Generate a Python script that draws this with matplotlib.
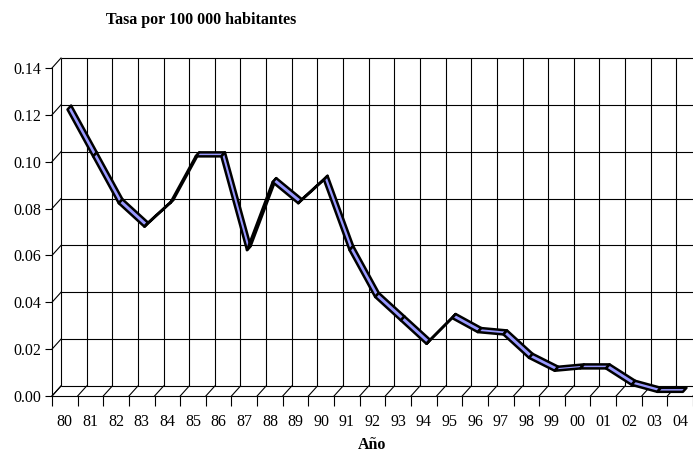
import numpy as np
import matplotlib
matplotlib.use("Agg")
import matplotlib.pyplot as plt
from matplotlib.patches import Polygon

plt.rcParams['font.family'] = ['Liberation Serif', 'DejaVu Serif']

years = ["80", "81", "82", "83", "84", "85", "86", "87", "88", "89",
         "90", "91", "92", "93", "94", "95", "96", "97", "98", "99",
         "00", "01", "02", "03", "04"]
tasa = [0.121, 0.101, 0.081, 0.071, 0.081, 0.101, 0.101, 0.061, 0.090, 0.081,
        0.091, 0.061, 0.041, 0.031, 0.021, 0.032, 0.026, 0.025, 0.015, 0.0095,
        0.0105, 0.0105, 0.0035, 0.0005, 0.0005]
yticks = [0.00, 0.02, 0.04, 0.06, 0.08, 0.10, 0.12, 0.14]

W, H = 693, 453
fig = plt.figure(figsize=(W / 100, H / 100), dpi=100)

# back wall (grid) and front axis, shifted 9px left / 10px down
back = fig.add_axes([61 / W, 67 / H, 641 / W, 328 / H])
front = fig.add_axes([52 / W, 57 / H, 641 / W, 328 / H])

n = len(years)
for ax in (back, front):
    ax.set_xlim(0, n)
    ax.set_ylim(0, 0.14)

back.axis("off")
back.hlines(yticks, 0, n, color="black", lw=0.8, clip_on=False)
back.vlines(range(n + 1), 0, 0.14, color="black", lw=0.8, clip_on=False)

# depth offset in data units
p0 = back.transData.transform((0, 0))
p1 = back.transData.transform((1, 1))
DX = 9 / (p1[0] - p0[0])
DY = 10 / (p1[1] - p0[1])

# floor and side wall edges
for i in range(n + 1):
    back.plot([i - DX, i], [-DY, 0], color="black", lw=0.8, clip_on=False)
for y in yticks:
    back.plot([-DX, 0], [y - DY, y], color="black", lw=0.8, clip_on=False)

# ribbon line
f1, f2 = 0.3, 0.7
xs = np.arange(n) + 0.5
vals = np.array(tasa)
fx = xs - DX * (1 - f1)
fy = vals - DY * (1 - f1)
bx = xs - DX * (1 - f2)
by = vals - DY * (1 - f2)
for i in range(n - 1):
    poly = Polygon([(fx[i], fy[i]), (fx[i + 1], fy[i + 1]),
                    (bx[i + 1], by[i + 1]), (bx[i], by[i])],
                   closed=True, facecolor="#9999ff", edgecolor="black",
                   lw=1.8, joinstyle="round", zorder=5, clip_on=False)
    back.add_patch(poly)

# front axis
front.patch.set_visible(False)
for s in ("top", "right"):
    front.spines[s].set_visible(False)
for s in ("left", "bottom"):
    front.spines[s].set_linewidth(0.8)
front.set_yticks(yticks)
front.set_yticklabels([f"{v:.2f}" for v in yticks])
front.tick_params(axis="y", length=5, width=0.8, pad=3, labelsize=11.5)
front.set_xticks(range(n + 1))
front.set_xticklabels([])
front.tick_params(axis="x", which="major", length=7.2, width=0.8)
front.set_xticks(xs, minor=True)
front.set_xticklabels(years, minor=True)
front.tick_params(axis="x", which="minor", length=0, pad=13, labelsize=11.5)

fig.text(106 / W, 1 - 20 / H, "Tasa por 100 000 habitantes", ha="left",
         va="center", fontsize=11.5, fontweight="bold")
fig.text(372 / W, 1 - 445 / H, "Año", ha="center", va="center",
         fontsize=11.5, fontweight="bold")

fig.savefig("out.png", dpi=100)
